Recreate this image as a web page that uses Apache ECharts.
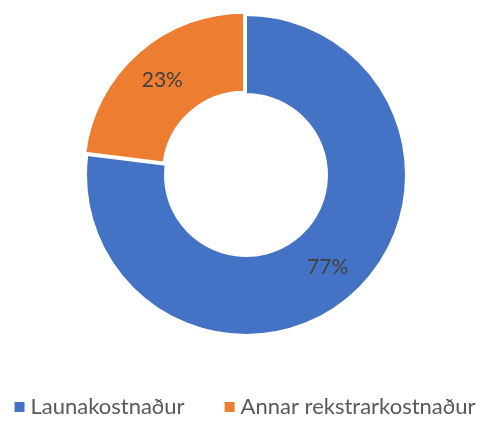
<!DOCTYPE html>
<html lang="en">
<head>
  <meta charset="UTF-8">
  <title>Kostnaður</title>
  <style>
    html, body { margin: 0; padding: 0; background: #fff; }
    #chart { width: 488px; height: 421px; }
  </style>
</head>
<body>
  <div id="chart"></div>
  <script src="https://cdn.jsdelivr.net/npm/echarts@6/dist/echarts.min.js"></script>
  <script>
    const categories = ['Launakostnaður', 'Annar rekstrarkostnaður']
    const values = [77, 23]
    const colors = ['#4472c4', '#ed7d31']

    const myChart = echarts.init(document.getElementById('chart'))

    const option = {
      animation: false,
      textStyle: { fontFamily: 'Lato' },
      legend: {
        bottom: -2,
        left: 'center',
        itemWidth: 12,
        itemHeight: 12,
        itemGap: 38,
        icon: 'rect',
        textStyle: { fontSize: 22, color: '#595959', fontFamily: 'Lato' },
        data: categories
      },
      series: [
        {
          type: 'pie',
          center: [246, 175],
          radius: [81, 160],
          startAngle: 90,
          clockwise: true,
          selectedMode: 'single',
          selectedOffset: 3,
          itemStyle: { borderColor: '#fff', borderWidth: 2 },
          label: {
            position: 'inside',
            formatter: '{d}%',
            fontSize: 21,
            color: '#404040',
            fontFamily: 'Lato'
          },
          labelLine: { show: false },
          emphasis: { disabled: true },
          data: categories.map((name, i) => ({
            name: name,
            value: values[i],
            selected: i === 1,
            itemStyle: { color: colors[i] }
          }))
        }
      ]
    }

    myChart.setOption(option)
  </script>
</body>
</html>
